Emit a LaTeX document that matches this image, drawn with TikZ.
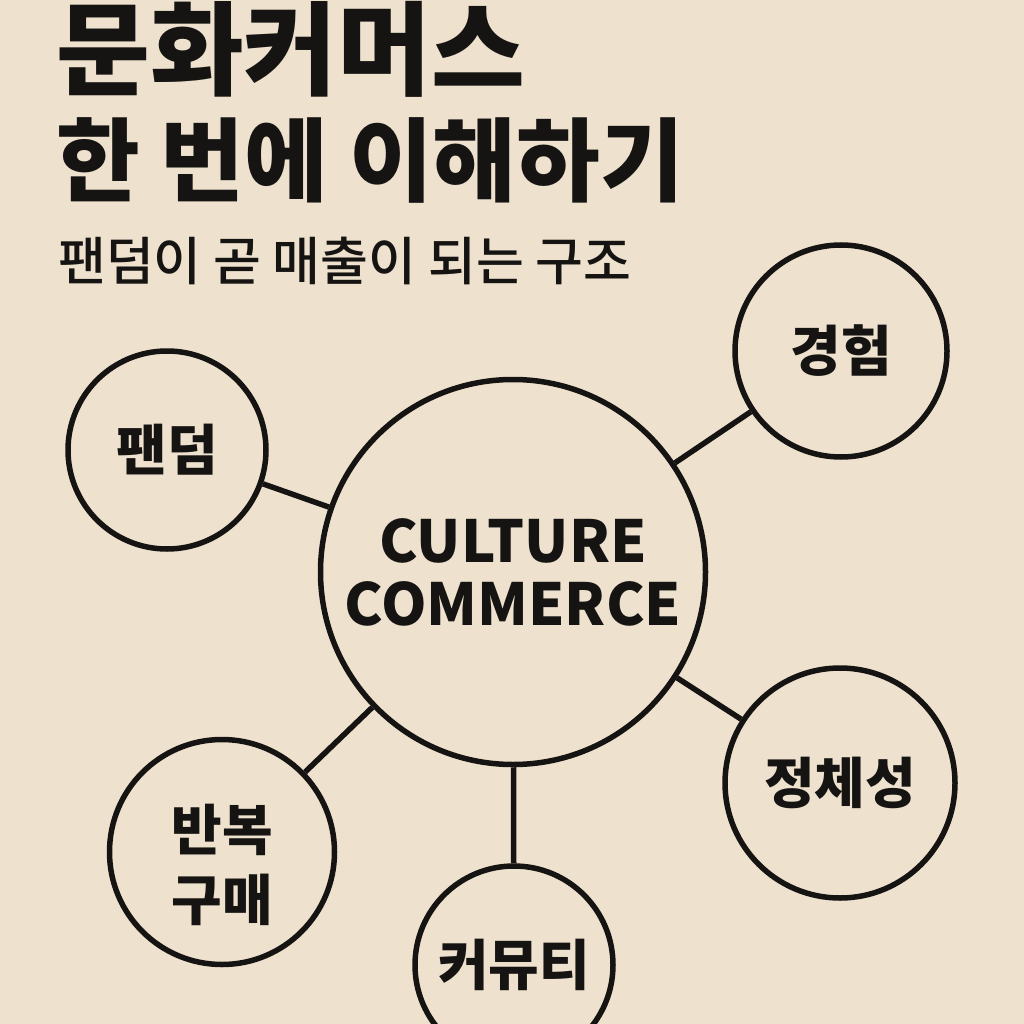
\documentclass[tikz,border=0pt]{standalone}
\usepackage{fontspec}
\setmainfont{Noto Sans CJK KR}
\newfontfamily\krmedium{Noto Sans CJK KR Medium}
\usetikzlibrary{positioning}
\definecolor{paper}{RGB}{238,226,206}
\definecolor{ink}{RGB}{22,20,18}
\tikzset{
  bubble/.style={circle,draw=ink,line width=5.5pt,minimum size=#1,inner sep=0pt,
    align=center,text=ink,font=\bfseries\fontsize{55}{70}\selectfont},
  bubble/.default=200pt,
  hub/.style={bubble=385pt,font=\bfseries\fontsize{58}{63}\selectfont},
  link/.style={draw=ink,line width=5.5pt},
  headline/.style={anchor=base west,inner sep=0pt,text=ink,
    font=\bfseries\fontsize{#1}{#1}\selectfont},
  subline/.style={anchor=base west,inner sep=0pt,text=ink,
    font=\krmedium\fontsize{#1}{#1}\selectfont},
}
\begin{document}
\begin{tikzpicture}[x=1pt,y=-1pt]
  \fill[paper] (0,0) rectangle (1024,1024);
  \useasboundingbox (0,0) rectangle (1024,1024);
  % title block
  \node[headline=102] (title) at (56,88) {문화커머스};
  \node[headline=91] (title2) at (56,195) {한 번에 이해하기};
  \node[subline=52] (sub) at (58,280) {팬덤이 곧 매출이 되는 구조};
  % hub and topics
  \node[hub] (cc) at (513,572) {CULTURE\\COMMERCE};
  \node[bubble=198pt] (fandom) at (167,450) {팬덤};
  \node[bubble=212pt] (exp) at (841,351) {경험};
  \node[bubble=230pt] (ident) at (840,783) {정체성};
  \node[bubble=225pt,text height=142pt] (rebuy) at (222,852) {반복\\구매};
  \node[bubble=198pt] (comm) at (514,965) {커뮤티};
  \foreach \t in {fandom,exp,ident,rebuy,comm}
    \draw[link] (cc) -- (\t);
\end{tikzpicture}
\end{document}
